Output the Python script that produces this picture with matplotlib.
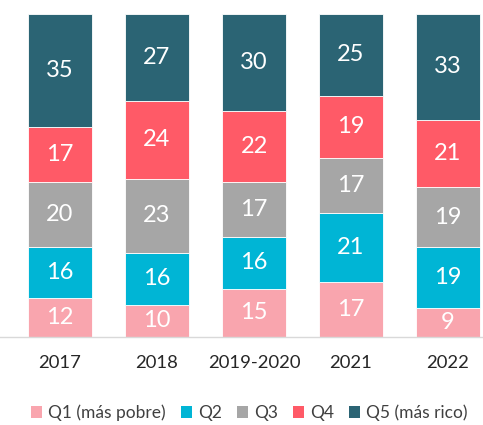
import numpy as np
import matplotlib.pyplot as plt
from matplotlib.patches import Patch

plt.rcParams['font.family'] = ['Lato', 'DejaVu Sans']

years = ["2017", "2018", "2019-2020", "2021", "2022"]
quintiles = ["Q1 (más pobre)", "Q2", "Q3", "Q4", "Q5 (más rico)"]
q1 = [12, 10, 15, 17, 9]
q2 = [16, 16, 16, 21, 19]
q3 = [20, 23, 17, 17, 19]
q4 = [17, 24, 22, 19, 21]
q5 = [35, 27, 30, 25, 33]
colors = ["#F9A5AE", "#00B5D5", "#A6A6A6", "#FF5A67", "#2B6474"]

series = np.array([q1, q2, q3, q4, q5], dtype=float)
# 100% stacked
shares = series / series.sum(axis=0) * 100

fig = plt.figure(figsize=(4.83, 4.25), dpi=100)
ax = fig.add_axes([0, 1 - 337 / 425, 1, 323 / 425])

x = np.arange(len(years))
bottom = np.zeros(len(years))
for vals, shown, col in zip(shares, series, colors):
    bars = ax.bar(x, vals, 0.66, bottom=bottom, color=col, edgecolor="white", linewidth=0.6)
    for b, v, s in zip(bars, vals, shown):
        ax.text(b.get_x() + b.get_width() / 2, b.get_y() + v / 2, f"{int(s)}",
                ha="center", va="center", color="white", fontsize=17)
    bottom += vals

ax.set_xlim(-60 / 97, (483 - 60) / 97)
ax.set_ylim(0, 100)
ax.set_yticks([])
ax.set_xticks(x)
ax.set_xticklabels(years, fontsize=13.3, color="#262626")
ax.tick_params(axis="x", length=0, pad=13)
for s in ["top", "left", "right"]:
    ax.spines[s].set_visible(False)
ax.spines["bottom"].set_color("#D9D9D9")
ax.spines["bottom"].set_linewidth(1)

handles = [Patch(facecolor=c, edgecolor="none") for c in colors]
fig.legend(handles, quintiles, loc="center left", bbox_to_anchor=(24 / 483, 1 - 413 / 425),
           ncol=5, frameon=False, fontsize=12.5, handlelength=0.65, handleheight=0.65,
           handletextpad=0.35, columnspacing=0.85, labelcolor="#404040", borderaxespad=0)

fig.savefig("out.png", dpi=100)
